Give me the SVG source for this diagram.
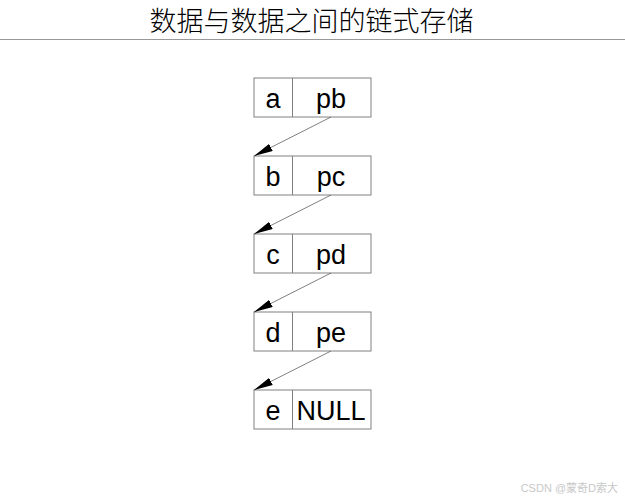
<svg xmlns="http://www.w3.org/2000/svg" width="625" height="500" viewBox="0 0 625 500">
<style>
.bx{fill:#fff;stroke:#808080;stroke-width:1}
.t{font-family:"Liberation Sans",Arial,sans-serif;font-size:27px;fill:#000;text-anchor:middle}
.c{stroke:#606060;stroke-width:0.8;fill:none;marker-end:url(#ah)}
</style>
<defs>
<marker id="ah" viewBox="0 0 19 8" refX="19" refY="4" markerWidth="19" markerHeight="8" markerUnits="userSpaceOnUse" orient="auto">
<path d="M0,0 L19,4 L0,8 Z" fill="#000"/>
</marker>
</defs>
<rect width="625" height="500" fill="#fff"/>
<text x="311.5" y="31" font-family="'Noto Sans CJK SC',sans-serif" font-size="27" font-weight="300" text-anchor="middle" fill="#000">数据与数据之间的链式存储</text>
<line x1="0" y1="39.5" x2="625" y2="39.5" stroke="#999" stroke-width="1"/>
<g id="node-a"><rect class="bx" x="254" y="78" width="117" height="39"/><line x1="292.5" y1="78" x2="292.5" y2="117" stroke="#808080"/><text class="t" x="273" y="107.5">a</text><text class="t" x="331" y="107.5">pb</text></g>
<g id="node-b"><rect class="bx" x="254" y="156" width="117" height="39"/><line x1="292.5" y1="156" x2="292.5" y2="195" stroke="#808080"/><text class="t" x="273" y="185.5">b</text><text class="t" x="331" y="185.5">pc</text></g>
<g id="node-c"><rect class="bx" x="254" y="234" width="117" height="39"/><line x1="292.5" y1="234" x2="292.5" y2="273" stroke="#808080"/><text class="t" x="273" y="263.5">c</text><text class="t" x="331" y="263.5">pd</text></g>
<g id="node-d"><rect class="bx" x="254" y="312" width="117" height="39"/><line x1="292.5" y1="312" x2="292.5" y2="351" stroke="#808080"/><text class="t" x="273" y="341.5">d</text><text class="t" x="331" y="341.5">pe</text></g>
<g id="node-e"><rect class="bx" x="254" y="390" width="117" height="39"/><line x1="292.5" y1="390" x2="292.5" y2="429" stroke="#808080"/><text class="t" x="273" y="419.5">e</text><text class="t" x="331" y="419.5">NULL</text></g>
<g id="connectors">
<line class="c" x1="331" y1="117" x2="254" y2="156"/>
<line class="c" x1="331" y1="195" x2="254" y2="234"/>
<line class="c" x1="331" y1="273" x2="254" y2="312"/>
<line class="c" x1="331" y1="351" x2="254" y2="390"/>
</g>
<text x="618" y="492" font-family="'Liberation Sans','Noto Sans CJK SC',sans-serif" font-size="11" text-anchor="end" fill="#c8c8c8">CSDN @蒙奇D索大</text>
</svg>
